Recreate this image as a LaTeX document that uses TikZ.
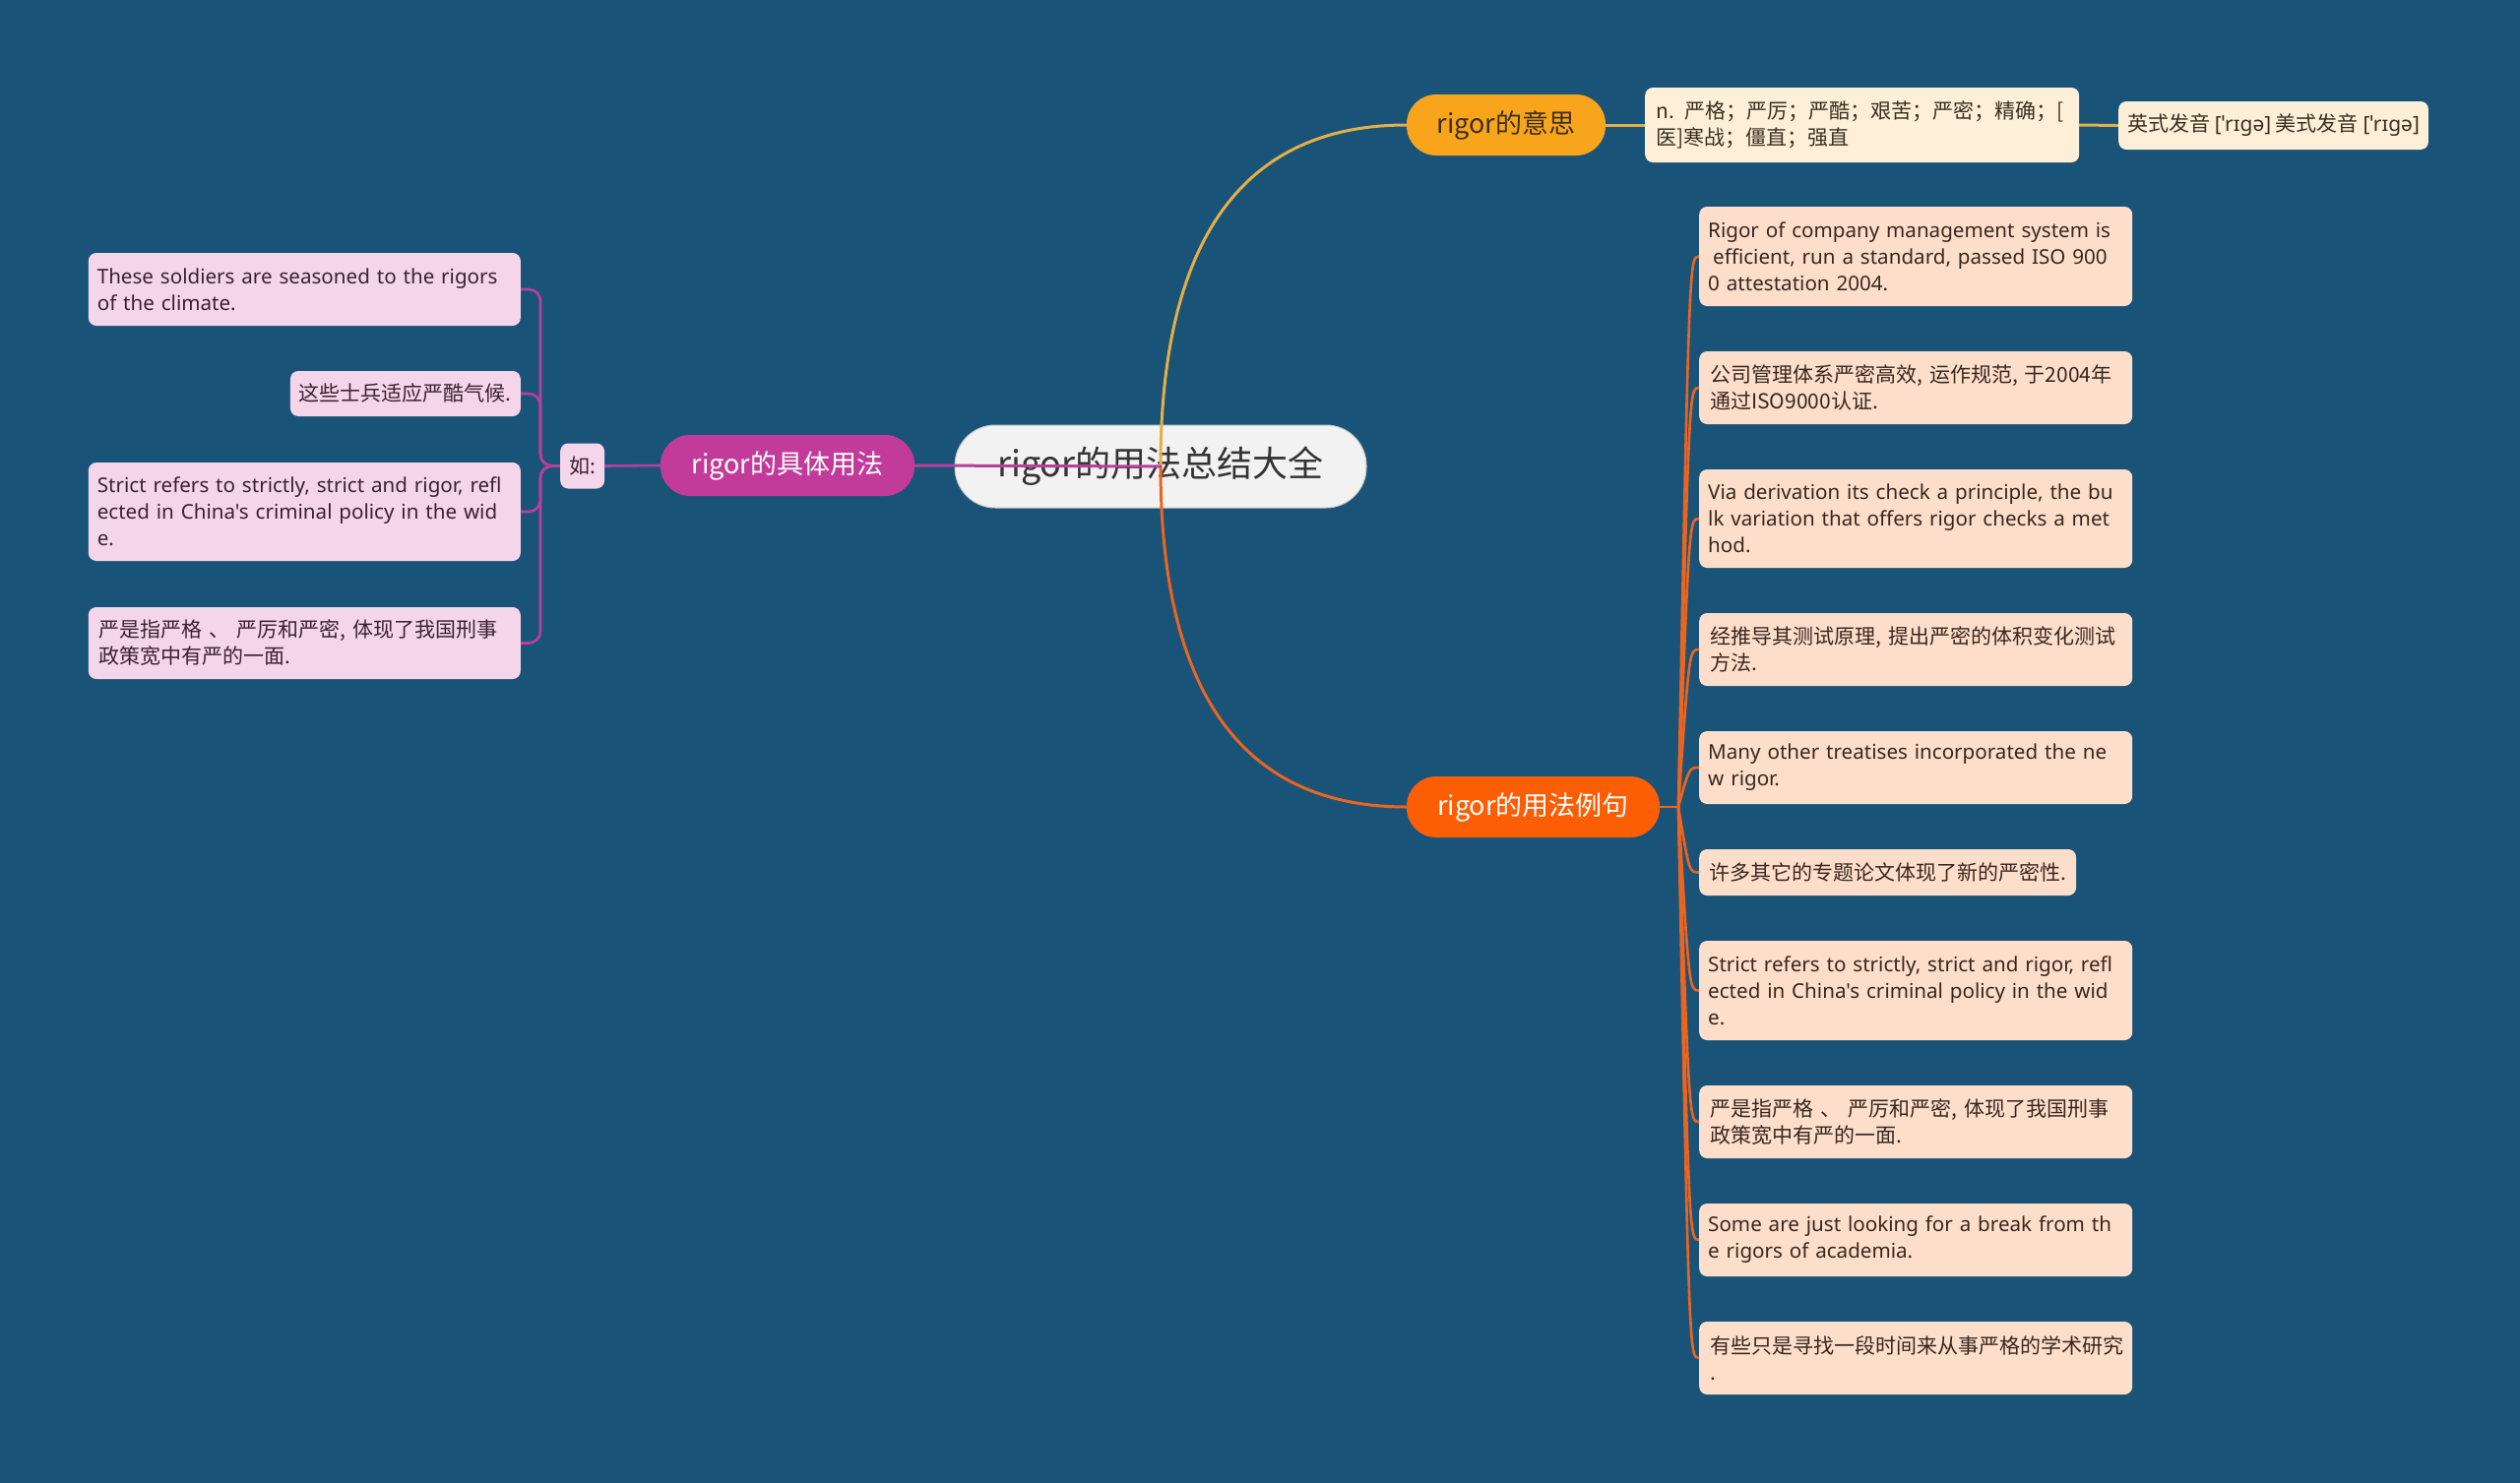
\documentclass[tikz,border=0pt]{standalone}
\usepackage{fontspec}
\setmainfont{Noto Sans CJK SC}
\newfontfamily\en{Noto Sans}
\definecolor{bg}{HTML}{1A5378}
\definecolor{rootfill}{HTML}{F2F2F2}
\definecolor{yel}{HTML}{F9A51C}
\definecolor{yelline}{HTML}{E2B047}
\definecolor{org}{HTML}{FB5E05}
\definecolor{orgline}{HTML}{EB6420}
\definecolor{mag}{HTML}{C23B9B}
\definecolor{magline}{HTML}{B8409C}
\definecolor{cream}{HTML}{FEF0D8}
\definecolor{peach}{HTML}{FDDECB}
\definecolor{pink}{HTML}{F5D5EA}
\definecolor{rtext}{HTML}{3A271C}
\definecolor{ltext}{HTML}{3A2232}
\definecolor{ctext}{HTML}{3B3020}
\pgfdeclarelayer{rootlayer}
\pgfdeclarelayer{connlayer}
\pgfsetlayers{rootlayer,connlayer,main}
\tikzset{
  root/.style={fill=rootfill, draw=gray!45, line width=1pt, rounded corners=41pt,
    minimum width=418pt, minimum height=84pt, inner sep=0pt, text=black!80,
    font=\fontsize{36}{40}\selectfont},
  pill/.style={rounded corners=30pt, minimum height=62pt, inner sep=0pt,
    font=\fontsize{27}{30}\selectfont},
  leaf/.style={rounded corners=8pt, inner xsep=11pt, inner ysep=0pt, align=left,
    font=\fontsize{21}{27}\selectfont},
  enfont/.style={font=\en\fontsize{20.6}{27}\selectfont, inner xsep=9pt, text width=422pt},
  rleaf/.style={leaf, fill=peach, text=rtext, anchor=west, text width=418pt},
  lleaf/.style={leaf, fill=pink, text=ltext, anchor=east, text width=417pt},
  conn/.style={line width=3pt, line cap=round},
  thin/.style={line width=2.6pt, line cap=round},
}
\begin{document}
\begin{tikzpicture}[x=1pt,y=-1pt]
\begin{pgfonlayer}{rootlayer}
\fill[bg] (0,0) rectangle (2560,1507);
\node[root] (root) at (1179,474) {rigor的用法总结大全};
\end{pgfonlayer}
\useasboundingbox (0,0) rectangle (2560,1507);
\coordinate (hub) at (1179,474);

% ---- main branches
\node[pill, fill=yel, text=ctext, minimum width=202pt] (m1) at (1530,127) {rigor的意思};
\node[pill, fill=org, text=white, minimum width=257pt] (m2) at (1557.5,820) {rigor的用法例句};
\node[pill, fill=mag, text=white, minimum width=258pt] (m3) at (800,473) {rigor的具体用法};

% ---- meaning
\node[leaf, fill=cream, text=ctext, anchor=west, text width=419pt, minimum height=76pt] (mean) at (1671,127)
  {n. 严格；严厉；严酷；艰苦；严密；精确；[\\医]寒战；僵直；强直};
\node[leaf, fill=cream, text=ctext, anchor=west, inner xsep=9pt, minimum height=49pt] (pron) at (2152,127.5)
  {英式发音 {\en[ˈrɪɡə]} 美式发音 {\en[ˈrɪɡə]}};

% ---- right examples
\node[rleaf, enfont, minimum height=101pt] (r1) at (1726,260.5)
  {Rigor of company management system is\\\hspace*{5pt}efficient, run a standard, passed ISO 900\\0 attestation 2004.};
\node[rleaf, minimum height=74pt] (r2) at (1726,394)
  {公司管理体系严密高效, 运作规范, 于2004年\\通过ISO9000认证.};
\node[rleaf, enfont, minimum height=100pt] (r3) at (1726,527)
  {Via derivation its check a principle, the bu\\lk variation that offers rigor checks a met\\hod.};
\node[rleaf, minimum height=74pt] (r4) at (1726,660)
  {经推导其测试原理, 提出严密的体积变化测试\\方法.};
\node[rleaf, enfont, minimum height=74pt] (r5) at (1726,780)
  {Many other treatises incorporated the ne\\w rigor.};
\node[leaf, fill=peach, text=rtext, anchor=west, minimum height=47pt, inner xsep=10pt] (r6) at (1726,886.5)
  {许多其它的专题论文体现了新的严密性.};
\node[rleaf, enfont, minimum height=101pt] (r7) at (1726,1006.5)
  {Strict refers to strictly, strict and rigor, refl\\ected in China's criminal policy in the wid\\e.};
\node[rleaf, minimum height=74pt] (r8) at (1726,1140)
  {严是指严格 、 严厉和严密, 体现了我国刑事\\政策宽中有严的一面.};
\node[rleaf, enfont, minimum height=74pt] (r9) at (1726,1260)
  {Some are just looking for a break from th\\e rigors of academia.};
\node[rleaf, minimum height=74pt] (r10) at (1726,1380)
  {有些只是寻找一段时间来从事严格的学术研究\\.};

% ---- left examples
\node[leaf, fill=pink, text=ltext, anchor=west, inner xsep=9pt, minimum height=46pt] (ru) at (569,473.5) {如:};
\node[lleaf, enfont, text width=421pt, minimum height=74pt] (l1) at (529,294)
  {These soldiers are seasoned to the rigors\\of the climate.};
\node[leaf, fill=pink, text=ltext, anchor=east, inner xsep=9pt, minimum height=46pt] (l2) at (529,400)
  {这些士兵适应严酷气候.};
\node[lleaf, enfont, text width=421pt, minimum height=100pt] (l3) at (529,520)
  {Strict refers to strictly, strict and rigor, refl\\ected in China's criminal policy in the wid\\e.};
\node[lleaf, minimum height=73pt] (l4) at (529,653.5)
  {严是指严格 、 严厉和严密, 体现了我国刑事\\政策宽中有严的一面.};

% ---- connectors
\begin{pgfonlayer}{connlayer}
\draw[conn, yelline] (hub) .. controls (1179,243) and (1263,127) .. (m1.west);
\draw[conn, orgline] (hub) .. controls (1179,705) and (1263,820) .. (m2.west);
\draw[conn, magline] (m3.east) -- (hub);
\draw[conn, yelline] (m1.east) -- (mean.west);
\draw[conn, yelline] (mean.east) -- (pron.west);
\coordinate (fan) at (1705,820);
\coordinate (fan2) at (1716,820);
\draw[thin, orgline] (m2.east) -- (fan);
\foreach \r in {r1,r2,r3,r4,r5,r6,r7,r8,r9,r10}
  \draw[thin, orgline] (fan) .. controls (fan2 |- \r.west) and (fan2 |- \r.west) .. (\r.west);
\draw[thin, magline] (m3.west) -- (ru.east);
\foreach \l in {l1,l2,l3,l4}
  \draw[thin, magline, rounded corners=12pt] (ru.west) -- ++(-20,0) |- (\l.east);
\end{pgfonlayer}
\end{tikzpicture}
\end{document}
